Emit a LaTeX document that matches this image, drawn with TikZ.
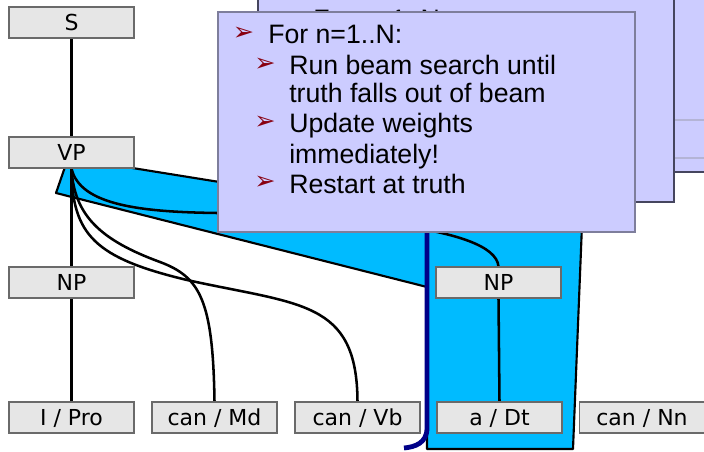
\documentclass[tikz,border=0pt]{standalone}
\usepackage{fontspec}
\setmainfont{DejaVu Sans}
\newfontfamily\slidefont{Liberation Sans}
\newfontfamily\bulfont{DejaVu Sans}
\usetikzlibrary{backgrounds}
\definecolor{tag}{HTML}{E6E6E6}
\definecolor{tagline}{HTML}{6A6A6A}
\definecolor{beam}{HTML}{00BBFF}
\definecolor{navy}{HTML}{000088}
\definecolor{lav}{HTML}{CCCCFF}
\definecolor{lavline}{HTML}{7E7E9C}
\definecolor{lavdark}{HTML}{45455E}
\definecolor{lavrule}{HTML}{B4B4D6}
\definecolor{bulred}{HTML}{880010}

\begin{document}
\begin{tikzpicture}[x=0.75pt,y=0.75pt,tag/.style={draw=tagline,line width=.8pt,fill=tag,minimum width=93.75pt,minimum height=23.25pt,inner sep=0pt,text height=12pt,text depth=0pt,font=\fontsize{16.5}{18}\selectfont},edge/.style={line width=1.9pt,black},slide/.style={fill=lav,draw=lavline,line width=1.1pt},txt/.style={anchor=base west,inner sep=0pt,font=\slidefont\fontsize{20}{22}\selectfont},bul/.style={inner sep=0pt,text=bulred,font=\bulfont\fontsize{19}{19}\selectfont}]
 \useasboundingbox (0,0) rectangle (704,451);
 \clip (0,0) rectangle (704,451);
 % tree
 \node[tag] (S) at (71.5,428.5) {S};
 \node[tag] (VP) at (71.5,298.5) {VP};
 \node[tag] (NPl) at (71.5,168.5) {NP};
 \node[tag] (NPr) at (498.5,168.5) {NP};
 \node[tag] (Pro) at (71.5,33.5) {I / Pro};
 \node[tag] (Md) at (214.5,33.5) {can / Md};
 \node[tag] (Vb) at (357.5,33.5) {can / Vb};
 \node[tag] (Dt) at (499.5,33.5) {a / Dt};
 \node[tag] (Nn) at (642,33.5) {can / Nn};
 \begin{scope}[on background layer]
  % beam region
  \filldraw[fill=beam,draw=black,line width=1.6pt,line join=round] (65,284)--(56,258)--(427,164)--(427,2)--(573,2)--(582,226)--(350,248)--(120,285)--cycle;
  \draw[navy,line width=3.6pt] (427,225)--(427,23) .. controls (427,8) and (415,4) .. (404,3);
  \draw[edge] (S.south)--(VP.north);
  \draw[edge] (VP.south)--(NPl.north);
  \draw[edge] (NPl.south)--(Pro.north);
  \draw[edge] (NPr.south)--(Dt.north);
  \draw[edge] (VP.south) .. controls (74,236) and (100,211) .. (160,189) .. controls (200,174) and (213,151) .. (Md.north);
  \draw[edge] (VP.south) .. controls (72,216) and (95,193) .. (187,171) .. controls (300,146) and (357,151) .. (Vb.north);
  \draw[edge] (VP.south) .. controls (80,246) and (140,239) .. (217,238) .. controls (330,235) and (495,226) .. (NPr.north);
 \end{scope}
 % slides behind
 \filldraw[slide,draw=lavdark] (300,279) rectangle (720,460);
 \draw[lavrule,line width=.8pt] (600,331)--(720,331) (600,293)--(720,293);
 \filldraw[slide,draw=lavdark] (258,249) rectangle (674,460);
 \node[txt] (back) at (313,422.5) {For n=1..N:};
 % front slide
 \filldraw[slide] (218,219) rectangle (635,439);
 \node[bul] (b1) at (243.5,417.7) {➢};
 \node[txt] (t1) at (268,407.7) {For n=1..N:};
 \node[bul] (b2) at (265,386) {➢};
 \node[txt] (t2) at (289,377) {Run beam search until};
 \node[txt] (t3) at (289,348.3) {truth falls out of beam};
 \node[bul] (b3) at (265,328) {➢};
 \node[txt] (t4) at (289,318.3) {Update weights};
 \node[txt] (t5) at (289,288) {immediately!};
 \node[bul] (b4) at (265,268) {➢};
 \node[txt] (t6) at (289,258) {Restart at truth};
\end{tikzpicture}
\end{document}
